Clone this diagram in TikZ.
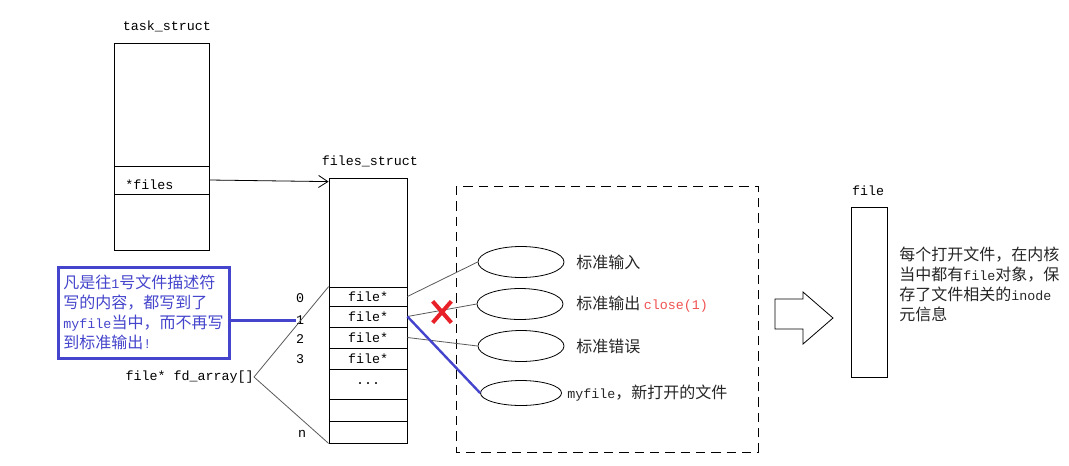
\documentclass[tikz,border=0pt]{standalone}
\usepackage{fontspec}
\setmonofont{Liberation Mono}
\newfontfamily\cjk{Noto Sans CJK SC}
\usepackage{tikz}
\usetikzlibrary{arrows.meta,positioning,shapes.geometric,shapes.misc}
\definecolor{noteblue}{RGB}{68,68,204}
\definecolor{closered}{RGB}{240,80,80}
\definecolor{xred}{RGB}{232,32,40}
\newcommand{\mono}[1]{{\ttfamily\fontsize{10}{15}\selectfont #1}}
\newcommand{\tdots}{...}

\tikzset{
  code/.style={font=\ttfamily\fontsize{10}{12}\selectfont, inner sep=0pt},
  cn/.style={font=\cjk\fontsize{12}{15}\selectfont, inner sep=0pt, text=black!85},
  cell/.style={draw, minimum width=58.5pt, inner sep=0pt, font=\ttfamily\fontsize{10}{12}\selectfont},
  fdfile/.style={draw, ellipse, minimum width=64.5pt, minimum height=23.25pt, inner sep=0pt},
  link/.style={draw=black!65, line width=0.6pt},
}

\begin{document}
\begin{tikzpicture}[x=0.75pt,y=-0.75pt,line width=0.6pt]
\useasboundingbox (0,0) rectangle (1069,465);

% task_struct
\node[code] (ts) at (167,26) {task\_struct};
\draw (114,43) rectangle (209,250);
\node[draw, minimum width=71.25pt, minimum height=21pt, inner sep=0pt] (tsf) at (161.5,180) {};
\node[code, anchor=west] (tsftxt) at (125,185) {*files};

% files_struct
\node[code] (fslbl) at (370,161) {files\_struct};
\node[draw, minimum width=58.5pt, minimum height=198.75pt, inner sep=0pt] (fs) at (368,310.5) {};
\draw[-{Straight Barb[length=7pt,width=9pt]}] (tsf.east) -- ([yshift=-3pt]fs.north west);
\foreach \nm/\tp/\bt/\txt in {fd0/287/306/file*, fd1/306/327/file*, fd2/327/348/file*,
    fd3/348/369/file*, fdd/369/399/\tdots, fdx/399/421/, fdn/421/443/}
  \node[cell, minimum height={(\bt-\tp)*0.75pt}] (\nm) at (368,{(\tp+\bt)/2}) {\txt};
\foreach \i/\y in {0/298,1/320,2/339,3/359}
  \node[code] (idx\i) at (300,\y) {\i};
\node[code] (idxn) at (302,434) {n};
\node[code, anchor=east] (fdarr) at (254,377) {file* fd\_array[]};
\draw[link] (fdarr.east) -- (fd0.north west);
\draw[link] (fdarr.east) -- (fdn.south west);

% note
\node[draw=noteblue, line width=2.25pt, text=noteblue, font=\cjk\fontsize{12}{15}\selectfont,
  align=left, minimum width=128.25pt, minimum height=68.25pt, inner sep=0pt] (note) at (143.5,312.5)
  {凡是往\mono{1}号文件描述符\\写的内容，都写到了\\\mono{myfile}当中，而不再写\\到标准输出\mono{!}};
\draw[noteblue, line width=2.25pt] (note.east |- idx1.west) -- (idx1.west);

% open files
\draw[dash pattern=on 7pt off 4.5pt] (456,186) rectangle (758,452);
\node[fdfile] (stdin) at (521,262) {};
\node[fdfile] (stdout) at (520,304) {};
\node[fdfile] (stderr) at (521,346) {};
\node[fdfile, minimum width=60.75pt, minimum height=18.75pt] (myfile) at (521,393) {};
\node[cn, anchor=west] (l0) at (576,262) {标准输入};
\node[cn, anchor=west] (l1) at (576,304) {标准输出 \textcolor{closered}{\mono{close(1)}}};
\node[cn, anchor=west] (l2) at (576,346) {标准错误};
\node[cn, anchor=west] (l3) at (567,393) {\mono{myfile}，新打开的文件};
\draw[link] (fd0.east) -- (stdin.west);
\draw[link] (fd1.east) -- (stdout.west);
\draw[link] (fd2.east) -- (stderr.west);
\draw[noteblue, line width=1.8pt] (fd1.east) -- (myfile.west);
\node[cross out, draw=xred, line width=3pt, minimum width=11pt, minimum height=13pt, inner sep=0pt] (cut) at (442,312) {};

% file object
\draw (775,299) -- (803,299) -- (803,292) -- (833,318) -- (803,344) -- (803,329) -- (775,329) -- cycle;
\node[code] (flbl) at (868,191) {file};
\node[draw, minimum width=27pt, minimum height=127.5pt, inner sep=0pt] (file) at (869,292) {};
\node[cn, anchor=north west, align=left] (info) at (899,247)
  {每个打开文件，在内核\\当中都有\mono{file}对象，保\\存了文件相关的\mono{inode}\\元信息};

\end{tikzpicture}
\end{document}
